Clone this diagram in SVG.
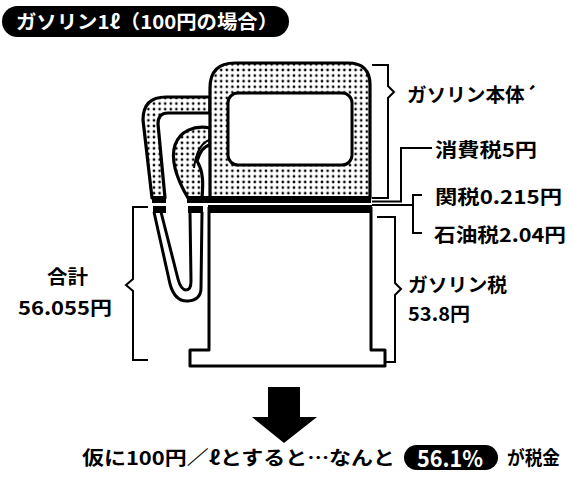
<svg xmlns="http://www.w3.org/2000/svg" width="572" height="489" viewBox="0 0 572 489">
  <defs>
    <pattern id="dots" x="0" y="0" width="5.6" height="5.6" patternUnits="userSpaceOnUse">
      <rect width="5.6" height="5.6" fill="#fff"/>
      <circle cx="2.8" cy="2.8" r="1.35" fill="#000"/>
    </pattern>
  </defs>
  <style>
    .t { font-family: "Noto Sans CJK JP", "Liberation Sans", sans-serif; font-weight: 700; fill: #000; }
    .w { fill: #fff; }
    .ln { fill: none; stroke: #000; stroke-width: 2; stroke-linejoin: miter; }
    .thick { fill: none; stroke: #000; stroke-width: 3; stroke-linejoin: round; }
    .dot { fill: url(#dots); stroke: #000; stroke-width: 3.2; stroke-linejoin: round; }
  </style>

  <rect width="572" height="489" fill="#fff"/>

  <!-- heading -->
  <g id="title">
    <rect x="2" y="6" width="287" height="31" rx="15.5" fill="#000"/>
    <text class="t w" x="16" y="29" font-size="19" textLength="262" lengthAdjust="spacingAndGlyphs">ガソリン1ℓ（100円の場合）</text>
  </g>

  <!-- the pump -->
  <g id="pump">
    <!-- outer hose, upper part -->
    <path class="dot" d="M210,97 H166 Q143,97 143,120 L152,198 H165 L158,124 Q158,113 168,113 H210 Z"/>
    <!-- nozzle -->
    <path class="dot" d="M210,128 C194,125 180,131 175,145 C170,161 178,181 188,198 H202 C203,186 204,172 197,161 C200,151 204,146 210,145 Z"/>
    <path class="ln" d="M194,168 C196,152 202,143 209,140"/>
    <!-- upper body -->
    <path class="dot" d="M210,198 V88 Q210,63 235,63 H348 Q370,63 370,85 V198 Z"/>
    <rect x="228" y="93" width="124" height="72" rx="10" fill="#fff" stroke="#000" stroke-width="3"/>
    <!-- tax bands -->
    <rect x="152" y="196" width="14" height="7" fill="#000"/>
    <rect x="187" y="196" width="184" height="7" fill="#000"/>
    <rect x="153" y="206" width="13" height="7" fill="#000"/>
    <rect x="188" y="206" width="15" height="7" fill="#000"/>
    <!-- lower body -->
    <path class="thick" fill="#fff" d="M209,207 V350 H190 V366 H385 V350 H371 V207"/>
    <rect x="208" y="205" width="164" height="8" fill="#000"/>
    <!-- hose loop -->
    <path class="thick" d="M154,212 L170,284 Q175,302 188,301 Q201,300 201,288 L202,212"/>
    <path class="thick" d="M161,212 L178,279 Q181,290 186,290 Q191,290 191,281 L190,212"/>
  </g>

  <!-- leaders and braces -->
  <g id="connectors">
    <path class="ln" d="M372,65 H388 V86 L394,92 L388,98 V198 H372"/>
    <path class="ln" d="M432,148 H401 V201.5 H372"/>
    <path class="ln" d="M422,195 H413 V233 H422 M413,205 H372"/>
    <path class="ln" d="M377,217 H395 V283 L401,289 L395,295 V362 H385"/>
    <path class="ln" d="M148,207 H133 V279 L126,285 L133,291 V360 H148"/>
  </g>

  <g id="label-honntai">
    <text class="t" x="407" y="102" font-size="19" textLength="130" lengthAdjust="spacingAndGlyphs">ガソリン本体´</text>
  </g>
  <g id="label-shouhi">
    <text class="t" x="435" y="157" font-size="19" textLength="102" lengthAdjust="spacingAndGlyphs">消費税5円</text>
  </g>
  <g id="label-kanzei">
    <text class="t" x="435" y="204" font-size="19" textLength="127" lengthAdjust="spacingAndGlyphs">関税0.215円</text>
  </g>
  <g id="label-sekiyu">
    <text class="t" x="434" y="242" font-size="19" textLength="132" lengthAdjust="spacingAndGlyphs">石油税2.04円</text>
  </g>
  <g id="label-gasoline-tax">
    <text class="t" x="408" y="292" font-size="19" textLength="99" lengthAdjust="spacingAndGlyphs">ガソリン税</text>
    <text class="t" x="408" y="321" font-size="19" textLength="62" lengthAdjust="spacingAndGlyphs">53.8円</text>
  </g>
  <g id="label-total">
    <text class="t" x="47" y="284" font-size="19" textLength="41" lengthAdjust="spacingAndGlyphs">合計</text>
    <text class="t" x="18" y="315" font-size="19" textLength="94" lengthAdjust="spacingAndGlyphs">56.055円</text>
  </g>

  <!-- result -->
  <g id="arrow">
    <polygon points="268,387 300,387 300,417 317,417 284,443 252,417 268,417" fill="#000"/>
  </g>
  <g id="summary">
    <text class="t" x="82" y="465" font-size="19" textLength="313" lengthAdjust="spacingAndGlyphs">仮に100円／ℓとすると…なんと</text>
    <rect x="404" y="445" width="94" height="25" rx="12.5" fill="#000"/>
    <text class="t w" x="417" y="467" font-size="23" textLength="66" lengthAdjust="spacingAndGlyphs">56.1%</text>
    <text class="t" x="507" y="465" font-size="19" textLength="53" lengthAdjust="spacingAndGlyphs">が税金</text>
  </g>
</svg>
